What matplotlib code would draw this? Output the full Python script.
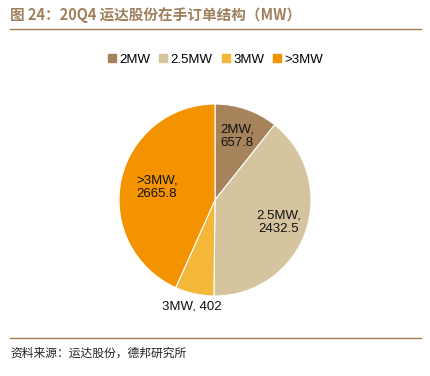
import numpy as np
import matplotlib
matplotlib.use("Agg")
import matplotlib.pyplot as plt
from matplotlib.lines import Line2D

plt.rcParams['font.family'] = ['Liberation Sans', 'Noto Sans CJK SC', 'DejaVu Sans']

# data
categories = ["2MW", "2.5MW", "3MW", ">3MW"]
values = [657.8, 2432.5, 402, 2665.8]
labels = ["2MW,\n657.8", "2.5MW,\n2432.5", "3MW, 402", ">3MW,\n2665.8"]
colors = ["#A7835C", "#D5C49E", "#F3B73A", "#F39300"]
label_dist = [0.70, 0.70, 1.14, 0.62]

fig = plt.figure(figsize=(4.31, 3.76), dpi=100)
ax = fig.add_axes([(215 - 96) / 431, (376 - 200 - 96) / 376, 192 / 431, 192 / 376])

wedges, _ = ax.pie(values, colors=colors, startangle=90, counterclock=False,
                   wedgeprops=dict(linewidth=0.8, edgecolor="white"))
ax.set_xlim(-1, 1)
ax.set_ylim(-1, 1)
ax.set_aspect("equal")

for w, lab, d in zip(wedges, labels, label_dist):
    ang = np.deg2rad((w.theta1 + w.theta2) / 2)
    ax.text(d * np.cos(ang), d * np.sin(ang), lab, ha="center", va="center",
            fontsize=9.5, color="#111111", clip_on=False)

# legend
handles = [Line2D([], [], marker="s", linestyle="", markersize=5.5,
                  markerfacecolor=c, markeredgecolor=c) for c in colors]
fig.legend(handles, categories, loc="center", bbox_to_anchor=(0.5, 1 - 60 / 376),
           ncol=4, frameon=False, fontsize=9.5, handlelength=0.6,
           handletextpad=0.25, columnspacing=0.7)

# title and rules
fig.text(10 / 431, 1 - 15 / 376, "图 24：20Q4 运达股份在手订单结构（MW）",
         fontsize=10.5, fontweight="bold", color="#A0805C", va="center", ha="left",
         family=["Noto Sans CJK SC", "DejaVu Sans"])
fig.add_artist(Line2D([10 / 431, 421 / 431], [1 - 29 / 376, 1 - 29 / 376],
                      color="#A27B55", linewidth=1.0))
fig.add_artist(Line2D([10 / 431, 421 / 431], [1 - 338 / 376, 1 - 338 / 376],
                      color="#A27B55", linewidth=1.0))
fig.text(10 / 431, 1 - 353 / 376, "资料来源：运达股份，德邦研究所",
         fontsize=8.5, color="#222222", va="center", ha="left",
         family=["Noto Sans CJK SC", "DejaVu Sans"])

fig.savefig("out.png", dpi=100)
